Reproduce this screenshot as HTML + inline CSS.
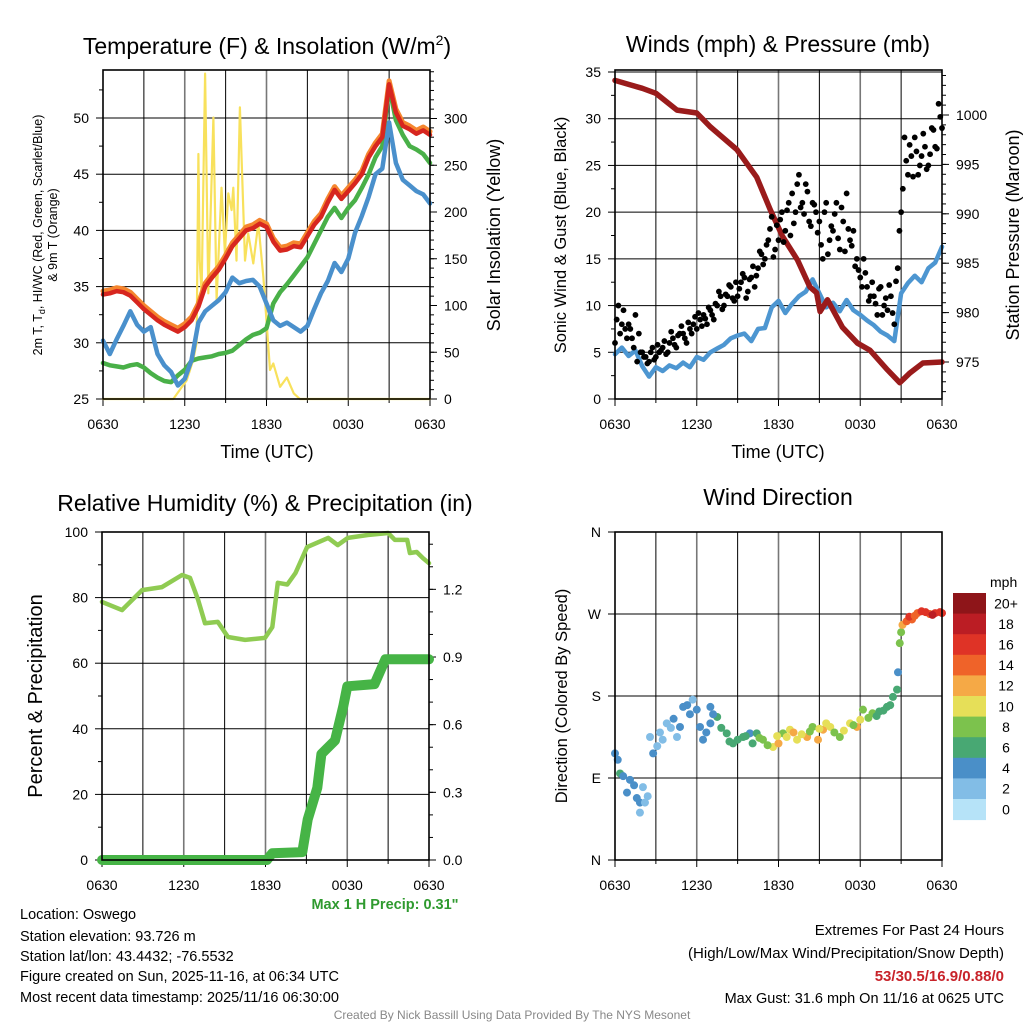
<!DOCTYPE html>
<html><head><meta charset="utf-8"><style>
html,body{margin:0;padding:0;background:#fff;}
svg{display:block;font-family:"Liberation Sans",Arial,sans-serif;}
</style></head><body>
<svg id="fig" width="1024" height="1024" viewBox="0 0 1024 1024">
<rect width="1024" height="1024" fill="#fff"/>
<text x="267" y="54" font-size="23" text-anchor="middle">Temperature (F) &amp; Insolation (W/m<tspan font-size="14" dy="-9">2</tspan><tspan dy="9">)</tspan></text>
<text x="778" y="52" font-size="23" text-anchor="middle">Winds (mph) &amp; Pressure (mb)</text>
<text x="265" y="511" font-size="23" text-anchor="middle">Relative Humidity (%) &amp; Precipitation (in)</text>
<text x="778" y="505" font-size="23" text-anchor="middle">Wind Direction</text>
<text x="267" y="458" font-size="18" text-anchor="middle">Time (UTC)</text>
<text x="778" y="458" font-size="18" text-anchor="middle">Time (UTC)</text>
<text transform="translate(42,235) rotate(-90)" font-size="12.5" text-anchor="middle">2m T, T<tspan font-size="9" dy="3">d</tspan><tspan dy="-3">, HI/WC (Red, Green, Scarlet/Blue)</tspan></text>
<text transform="translate(57,235) rotate(-90)" font-size="12.5" text-anchor="middle">&amp; 9m T (Orange)</text>
<text transform="translate(500,235) rotate(-90)" font-size="18" text-anchor="middle">Solar Insolation (Yellow)</text>
<text transform="translate(566,235) rotate(-90)" font-size="16.5" text-anchor="middle">Sonic Wind &amp; Gust (Blue, Black)</text>
<text transform="translate(1019,235) rotate(-90)" font-size="18" text-anchor="middle">Station Pressure (Maroon)</text>
<text transform="translate(42,696) rotate(-90)" font-size="20" text-anchor="middle">Percent &amp; Precipitation</text>
<text transform="translate(567,696) rotate(-90)" font-size="16.5" text-anchor="middle">Direction (Colored By Speed)</text>
<text x="385" y="909" font-size="14.5" font-weight="bold" fill="#2f9a2f" text-anchor="middle">Max 1 H Precip: 0.31"</text>
<g font-size="14.5">
<text x="20" y="919">Location: Oswego</text>
<text x="20" y="941">Station elevation: 93.726 m</text>
<text x="20" y="961">Station lat/lon: 43.4432; -76.5532</text>
<text x="20" y="981">Figure created on Sun, 2025-11-16, at 06:34 UTC</text>
<text x="20" y="1002">Most recent data timestamp: 2025/11/16 06:30:00</text>
</g>
<g font-size="15" text-anchor="end">
<text x="1004" y="935">Extremes For Past 24 Hours</text>
<text x="1004" y="958">(High/Low/Max Wind/Precipitation/Snow Depth)</text>
<text x="1004" y="981" font-weight="bold" fill="#c8232a">53/30.5/16.9/0.88/0</text>
<text x="1004" y="1003" font-size="14.5">Max Gust: 31.6 mph On 11/16 at 0625 UTC</text>
</g>
<text x="512" y="1019" font-size="12" fill="#888" text-anchor="middle">Created By Nick Bassill Using Data Provided By The NYS Mesonet</text>
</svg>
<script>
// ---------- data ----------
const halfHours = [0,0.5,1,1.5,2,2.5,3,3.5,4,4.5,5,5.5,6,6.5,7,7.5,8,8.5,9,9.5,10,10.5,11,11.5,12,12.5,13,13.5,14,14.5,15,15.5,16,16.5,17,17.5,18,18.5,19,19.5,20,20.5,21,21.5,22,22.5,23,23.5,24];
const tempRed = [34.3,34.4,34.6,34.5,34.2,33.6,33.0,32.5,32.0,31.6,31.3,31.0,31.4,32.0,33.2,35.0,35.8,36.5,37.5,38.6,39.3,40.0,40.2,40.6,40.3,39.0,38.2,38.3,38.6,38.5,39.5,40.5,41.2,42.5,43.6,42.8,43.5,44.2,45.0,46.5,47.5,48.3,53.0,50.5,49.3,49.0,48.6,48.9,48.5];
const temp9m = [34.6,34.7,34.9,34.8,34.5,33.9,33.3,32.8,32.3,31.9,31.6,31.3,31.7,32.3,33.5,35.3,36.1,36.8,37.8,38.9,39.6,40.3,40.5,40.9,40.6,39.3,38.5,38.6,38.9,38.8,39.8,40.8,41.5,42.8,43.9,43.1,43.8,44.5,45.3,46.8,47.8,48.6,53.3,50.8,49.6,49.3,48.9,49.2,48.8];
const dewGreen = [28.2,28.0,27.9,27.8,28.0,28.1,27.8,27.3,26.9,26.6,26.5,27.1,27.6,28.4,28.6,28.7,28.8,29.0,29.1,29.3,29.8,30.3,30.7,30.9,31.3,33.5,34.5,35.2,36.0,36.8,37.6,38.8,40.0,41.2,42.0,41.1,42.0,42.7,43.8,45.0,46.5,47.5,52.8,49.8,48.5,47.5,47.2,46.8,46.0];
const chillBlue = [30.2,29.0,30.3,31.5,32.8,31.6,31.0,31.4,29.0,28.0,27.4,26.2,26.8,28.5,31.8,32.8,33.3,33.8,34.5,35.8,35.3,35.5,35.6,35.0,33.5,32.0,31.5,31.8,31.4,31.0,31.5,33.0,34.4,35.5,37.1,36.3,37.5,39.8,41.3,43.0,45.0,45.5,49.6,46.0,44.5,44.0,43.5,43.2,42.4];
const solarHours = [0,5.16,5.65,6.14,6.63,6.87,7.0,7.1,7.24,7.49,7.73,8.1,8.34,8.7,8.95,9.2,9.44,9.56,9.8,10.05,10.42,10.66,11.03,11.4,11.77,12.26,12.5,13.0,13.5,14.0,14.45,24];
const solarValues = [0,0,10,20,42,60,262,148,113,348,113,301,106,226,156,220,202,226,148,312,148,177,145,188,130,31,38,13,23,6,0,0];
const windBlue = [4.8,5.5,4.6,5.2,3.5,2.4,3.4,3.0,3.6,3.3,3.9,3.4,4.5,4.2,5.0,5.4,5.8,6.5,6.8,7.0,6.2,7.5,7.6,9.8,10.5,9.2,10.2,11.0,11.5,12.8,11.3,9.8,10.3,9.4,10.6,9.5,9.0,8.4,7.9,7.2,6.8,6.2,11.3,12.4,13.2,12.5,14.0,14.6,16.3];
const pressHours = [0,1,2,3,4.55,6,7,8.95,10.4,11.4,12.3,13.4,14.3,14.8,15.05,15.6,16.7,17.8,18.7,20,20.9,21.65,22.6,24];
const pressValues = [1003.5,1003.1,1002.7,1002.2,1000.5,1000.2,998.8,996.5,993.7,990.4,987.7,985.3,982.6,982.0,980.1,981.3,978.5,976.9,976.2,974.2,972.9,973.9,974.9,975.0];
const gustValues = [6,10,8,7.5,8,6.5,9,7,5,4.5,4,5.5,4.5,5,5.5,4.8,6,6.5,5.5,7,7,6,7.5,8,7.5,8.5,9,8,9.5,8.5,10,11,10,11,12,10.5,11,12.5,13,11.5,13,12,14,15.5,15,17,19.5,16,17,20,18,21,22,20,24,21,23,19,21,20,19,15,21,17,18,21,16,19,22,17,18,15,13,15,12,11,11,9,12,10,9.5,11,8,14,20,28,24,26,28,24,26,27,25,29,27,31.6,29];
const gustValues2 = [8.5,7,9.5,6.5,7.5,5.5,4,5,4.5,3.8,5,4.2,5.8,5.2,6.2,5,7.2,5.8,6.8,7.8,6.5,8.2,7,8.8,9.2,7.8,8.6,9.8,9,10.2,11.5,9.6,11.2,12.2,10.8,12.5,11.8,13.4,10.8,12.8,14.2,13.2,15.8,14.4,16.5,18.2,15.2,18.6,19.2,16.8,20.2,17.5,18.8,23,20.5,19.8,22.2,18.5,20.8,17.8,16.5,20,15.5,18.5,19.8,17.2,20.5,15.8,18.2,16.4,14.2,13.8,12,13.5,10.5,12.5,10.2,11.8,9,10.8,12.2,9.2,12.6,18,22.5,25.5,27.2,23.8,26.5,25,28.4,24.6,26.2,28.8,26.8,30.2];
const rhHours = [0,1.47,2.94,4.4,5.87,6.46,7.05,7.56,8.5,9.25,10.5,11.96,12.5,12.9,13.6,14.2,15.05,16.6,17.3,18.05,19.5,21,21.5,22.4,22.6,23.1,23.56,24];
const rhValues = [78.7,76.2,82.3,83.2,86.9,86,79.3,72.2,72.6,68,67.1,67.7,71,84.5,84,87.5,95.4,98.2,96,98.2,99.1,99.7,97.6,97.6,93.6,93.9,92,90.5];
const precipHours = [0,12.1,12.5,14.7,15.1,15.8,16.1,17.1,17.7,18.0,20.0,20.8,24];
const precipValues = [0,0,0.03,0.035,0.18,0.32,0.47,0.53,0.68,0.77,0.78,0.89,0.89];
const dirHours = [0,0.37,1.1,0.88,1.83,1.83,2.2,2.05,2.57,2.8,3.5,3.8,4.55,4.77,5.0,5.7,6.0,6.24,6.46,7.0,7.5,7.0,8.2,8.66,9.4,9.9,10.4,10.86,11.6,12.0,12.33,12.84,13.36,14.1,14.5,14.9,15.27,15.8,16.5,17.25,17.76,18.2,18.9,19.4,19.96,20.4,20.7,20.77,20.9,21.0,21.1,21.4,21.8,22.2,22.5,23.1,23.5,23.85,
 0.2,0.6,1.4,1.6,2.4,3.1,3.3,4.1,4.3,5.3,5.5,6.7,7.2,7.8,8.4,9.0,9.6,10.1,10.6,11.2,11.9,12.6,13.1,13.7,14.3,15.0,15.5,16.1,16.8,17.5,18.0,18.6,19.2,19.7,20.2,21.6,22.0,22.8,23.3,24];
const dirValues = [117,95,88,74,63,52,63,80,135,117,132,150,135,146,168,176,165,146,132,168,157,150,139,128,135,139,139,132,124,128,139,143,132,135,146,132,143,146,135,150,146,165,161,163,168,179,187,206,238,250,258,262,264,271,273,270,271,272,
 110,92,82,68,70,125,140,145,155,170,160,140,160,145,130,132,136,128,134,126,136,135,140,138,141,144,150,140,142,148,154,156,158,164,170,267,268,272,269,271];
const dirSpeeds = [4,6,4,4,4,2,2,2,2,4,2,2,2,4,4,2,4,4,4,4,6,4,6,6,6,4,6,8,10,12,8,10,10,12,8,12,12,10,8,10,12,8,8,6,6,6,6,4,8,8,12,14,14,14,16,14,16,16,
 4,4,4,4,2,2,2,2,4,4,4,4,4,6,6,6,6,6,8,8,10,10,12,10,8,10,10,8,10,8,10,8,6,6,6,16,14,16,18,16];
const xTickLabels = ["0630","1230","1830","0030","0630"];
const speedLabels = ["0","2","4","6","8","10","12","14","16","18","20+"];
const speedColors = ["#b6e3f8","#82bde6","#4a8fc8","#48a873","#7cc24d","#e6df58","#f5a946","#ef6329","#df3326","#bb1d24","#8e1519"];

// ---------- helpers ----------
const NS = "http://www.w3.org/2000/svg";
const svg = document.getElementById("fig");
function mk(tag, attrs, parent){
  const e = document.createElementNS(NS, tag);
  for (const k in attrs) e.setAttribute(k, attrs[k]);
  (parent||svg).appendChild(e);
  return e;
}
function txt(x,y,s,size,anchor,name){
  const t = mk("text",{x:x,y:y,"font-size":size,"text-anchor":anchor});
  t.textContent = s;
  
  
  return t;
}
function panel(x0,x1,y0,y1){
  return {x0,x1,y0,y1,x:h=>x0+(x1-x0)*h/24};
}
function lin(v0,v1,p0,p1){ return v=>p0+(v-v0)*(p1-p0)/(v1-v0); }

const P1 = panel(103,430,70,399), P2 = panel(615,942,70,399), P3 = panel(102,429,532,860), P4 = panel(615,942,532,860);
const y1L = lin(25,50,399,118), y1R = lin(0,300,399,118.5);
const y2L = lin(0,35,399,72), y2R = lin(975,1000,362,115);
const y3L = lin(0,100,860,532), y3R = lin(0,0.9,860,657);
const y4 = lin(0,360,860,532);

function drawFrame(P, leftTicks, leftLabels, leftMinor, yL, rightTicks, rightLabels, rightMinor, yR, key){
  const g = mk("g",{});
  
  
  for (let h=3; h<24; h+=3){
    const major = h%6===0;
    const l = mk("line",{x1:P.x(h),x2:P.x(h),y1:P.y0,y2:P.y1,stroke:major?"#777":"#000","stroke-width":major?1.6:1},g);
    
    
  }
  leftTicks.forEach(v=>{
    const y=yL(v);
    if (y>P.y0+1 && y<P.y1-1){
      const l = mk("line",{x1:P.x0,x2:P.x1,y1:y,y2:y,stroke:"#000","stroke-width":1},g);
      
      
    }
  });
  for (let h=0; h<=24; h+=3){
    const l = mk("line",{x1:P.x(h),x2:P.x(h),y1:P.y1,y2:P.y1+(h%6===0?7:4),stroke:"#000","stroke-width":1},g);
    
    
  }
  xTickLabels.forEach((s,i)=>{ txt(P.x(i*6), P.y1+30, s, 14, "middle", key+'-xtick-label'); });
  leftTicks.forEach((v,i)=>{
    const y=yL(v);
    const l = mk("line",{x1:P.x0-7,x2:P.x0,y1:y,y2:y,stroke:"#000","stroke-width":1},g);
    
    
    txt(P.x0-14, y+5, leftLabels[i], 14, "end", key+'-ytick-label');
  });
  leftMinor.forEach(v=>{
    const y=yL(v);
    const l = mk("line",{x1:P.x0-4,x2:P.x0,y1:y,y2:y,stroke:"#000","stroke-width":1},g);
    
    
  });
  if (rightTicks){
    rightTicks.forEach((v,i)=>{
      const y=yR(v);
      const l = mk("line",{x1:P.x1,x2:P.x1+7,y1:y,y2:y,stroke:"#000","stroke-width":1},g);
      
      
      txt(P.x1+14, y+5, rightLabels[i], 14, "start", key+'-right-ytick-label');
    });
    rightMinor.forEach(v=>{
      const y=yR(v);
      if (y<P.y0||y>P.y1) return;
      const l = mk("line",{x1:P.x1,x2:P.x1+4,y1:y,y2:y,stroke:"#000","stroke-width":1},g);
      
      
    });
  }
}
function drawBorder(P,key){
  const r = mk("rect",{x:P.x0,y:P.y0,width:P.x1-P.x0,height:P.y1-P.y0,fill:"none",stroke:"#000","stroke-width":1.6});
  
  
}
function poly(P, hours, vals, yf, color, w, name){
  const pts = hours.map((h,i)=>P.x(h).toFixed(1)+","+yf(vals[i]).toFixed(1)).join(" ");
  const p = mk("polyline",{points:pts,fill:"none",stroke:color,"stroke-width":w,"stroke-linejoin":"round","stroke-linecap":"round"});
  
  
  return p;
}
function range(a,b,s){ const r=[]; for(let v=a; v<=b+1e-9; v+=s) r.push(+v.toFixed(4)); return r; }

// ---------- panel 1 ----------
drawFrame(P1,[25,30,35,40,45,50],["25","30","35","40","45","50"],[27.5,32.5,37.5,42.5,47.5,52.5],y1L,
  [0,50,100,150,200,250,300],["0","50","100","150","200","250","300"],range(0,350,10),y1R,"temperature");
poly(P1, solarHours, solarValues, y1R, "#f8e15c", 2.2, "solar-insolation-line");
poly(P1, halfHours, dewGreen, y1L, "#49b048", 4.5, "dewpoint-line");
poly(P1, halfHours, chillBlue, y1L, "#4a90cc", 4.5, "wind-chill-line");
poly(P1, halfHours, temp9m, y1L, "#f5862e", 5, "temperature-9m-line");
poly(P1, halfHours, tempRed, y1L, "#d7261f", 4.5, "temperature-2m-line");
drawBorder(P1,"temperature");

// ---------- panel 2 ----------
drawFrame(P2,[0,5,10,15,20,25,30,35],["0","5","10","15","20","25","30","35"],[2.5,7.5,12.5,17.5,22.5,27.5,32.5],y2L,
  [975,980,985,990,995,1000],["975","980","985","990","995","1000"],range(972,1004,1),y2R,"winds");
poly(P2, halfHours, windBlue, y2L, "#4d96d1", 4.5, "sonic-wind-line");
poly(P2, pressHours, pressValues, y2R, "#9a1b1b", 5.5, "pressure-line");
gustValues.forEach((v,i)=>{
  const c = mk("circle",{cx:P2.x(i*0.25),cy:y2L(v),r:2.9,fill:"#000"});
  
  
});
gustValues2.forEach((v,i)=>{
  const c = mk("circle",{cx:P2.x(Math.min(24,i*0.25+0.125)),cy:y2L(v),r:2.9,fill:"#000"});
  
  
});
drawBorder(P2,"winds");

// ---------- panel 3 ----------
drawFrame(P3,[0,20,40,60,80,100],["0","20","40","60","80","100"],[10,30,50,70,90],y3L,
  [0,0.3,0.6,0.9,1.2],["0.0","0.3","0.6","0.9","1.2"],range(0,1.4,0.1),y3R,"humidity");
poly(P3, rhHours, rhValues, y3L, "#8fcb52", 4.5, "relative-humidity-line");
poly(P3, precipHours, precipValues, y3R, "#46b446", 10, "precipitation-line");
drawBorder(P3,"humidity");

// ---------- panel 4 ----------
drawFrame(P4,[0,90,180,270,360],["N","E","S","W","N"],[],y4,null,null,null,null,"direction");
dirValues.forEach((d,i)=>{
  const idx = Math.min(10, Math.floor(dirSpeeds[i]/2));
  const c = mk("circle",{cx:P4.x(dirHours[i]),cy:y4(d),r:4,fill:speedColors[idx]});
  
  
});
drawBorder(P4,"direction");
const cbTop = 593, cbH = 20.6;
txt(990, 587, "mph", 14, "start", "colorbar-unit");
speedColors.forEach((col,i)=>{
  const k = 10-i;
  const r = mk("rect",{x:953,y:cbTop+i*cbH,width:33,height:cbH+0.5,fill:speedColors[k]});
  
  
  txt(1006, cbTop+i*cbH+cbH/2+5, speedLabels[k], 14, "middle", "colorbar-label");
});
</script>
</body></html>
